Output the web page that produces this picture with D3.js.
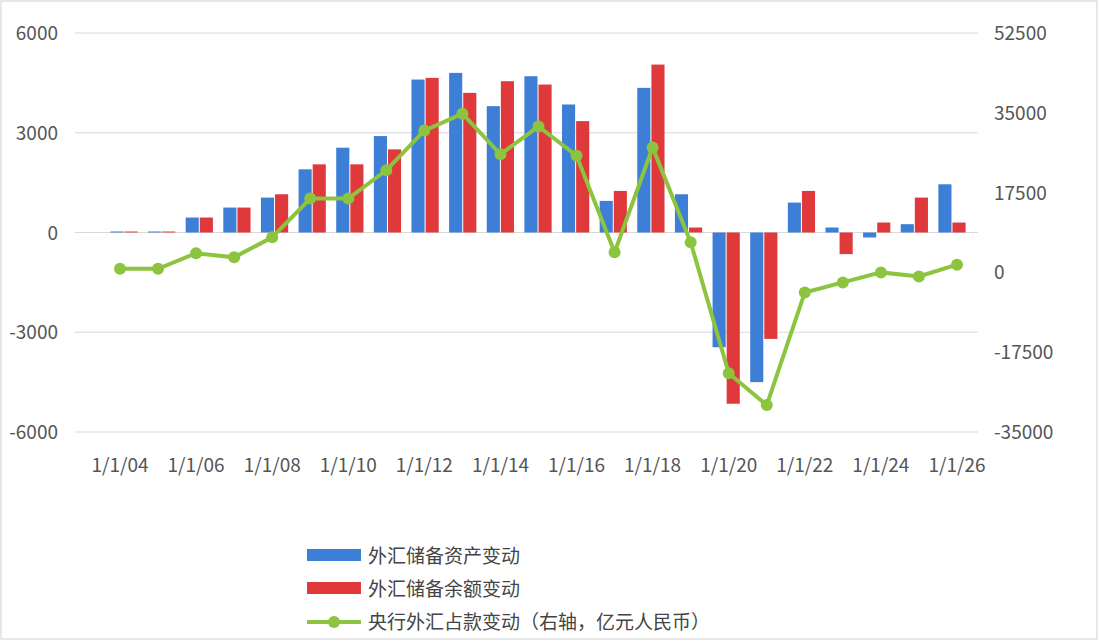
<!DOCTYPE html>
<html><head><meta charset="utf-8">
<script src="https://cdn.jsdelivr.net/npm/d3@7"></script>
<style>body{margin:0;background:#fff;font-family:"Noto Sans CJK SC","DejaVu Sans",sans-serif}</style>
</head><body><svg id="c" width="1100" height="642"></svg>
<script>
var years = d3.range(2004, 2027);
var assetChange = [30, 30, 450, 750, 1050, 1900, 2550, 2900, 4600, 4800, 3800, 4700, 3850, 950, 4350, 1150, -3450, -4500, 900, 150, -150, 250, 1450];
var balanceChange = [30, 30, 450, 750, 1150, 2050, 2050, 2500, 4650, 4200, 4550, 4450, 3350, 1250, 5050, 150, -5150, -3200, 1250, -650, 300, 1050, 300];
var pbocChange = [800, 800, 4200, 3300, 7700, 16200, 16200, 22400, 31100, 34800, 25900, 32000, 25600, 4400, 27400, 6600, -22100, -29100, -4400, -2200, 0, -900, 1700];
var leftTicks = [-6000, -3000, 0, 3000, 6000];
var rightTicks = [-35000, -17500, 0, 17500, 35000, 52500];
var names = ['外汇储备资产变动', '外汇储备余额变动', '央行外汇占款变动（右轴，亿元人民币）'];
var colors = ['#3d7fd6', '#e0393b', '#8cc43f'];

var svg = d3.select('#c');
svg.append('rect').attr('x', 1).attr('y', 1).attr('width', 1096).attr('height', 638)
    .attr('fill', 'none').attr('stroke', '#d0d0d0');

var plotLeft = 75, plotRight = 978, plotTop = 33, plotBottom = 432;
var x = d3.scaleBand().domain(years).range([plotLeft + 26, plotRight - 2]).paddingInner(0.25).paddingOuter(0.25);
var x0 = d3.scaleBand().domain(years).range([plotLeft + 26, plotRight - 2]);
var yl = d3.scaleLinear().domain([-6000, 6000]).range([plotBottom, plotTop]);
var yr = d3.scaleLinear().domain([-35000, 52500]).range([plotBottom, plotTop]);

svg.selectAll('line.grid').data(leftTicks).enter().append('line')
    .attr('x1', plotLeft).attr('x2', plotRight).attr('y1', yl).attr('y2', yl)
    .attr('stroke', '#d9d9d9');

svg.selectAll('text.yl').data(leftTicks).enter().append('text')
    .attr('x', 58).attr('y', function (d) { return yl(d) + 7; })
    .attr('text-anchor', 'end').attr('font-size', 19).attr('fill', '#555')
    .text(function (d) { return d; });
svg.selectAll('text.yr').data(rightTicks).enter().append('text')
    .attr('x', 994).attr('y', function (d) { return yr(d) + 7; })
    .attr('font-size', 19).attr('fill', '#555')
    .text(function (d) { return d; });

var bw = x.bandwidth() / 2;
var g = svg.append('g');
g.selectAll('rect.a').data(assetChange).enter().append('rect')
    .attr('x', function (d, i) { return x(years[i]); })
    .attr('y', function (d) { return yl(Math.max(0, d)); })
    .attr('width', bw - 1)
    .attr('height', function (d) { return Math.abs(yl(d) - yl(0)); })
    .attr('fill', colors[0]);
g.selectAll('rect.b').data(balanceChange).enter().append('rect')
    .attr('x', function (d, i) { return x(years[i]) + bw; })
    .attr('y', function (d) { return yl(Math.max(0, d)); })
    .attr('width', bw - 1)
    .attr('height', function (d) { return Math.abs(yl(d) - yl(0)); })
    .attr('fill', colors[1]);

var cx = function (d, i) { return x0(years[i]) + x0.bandwidth() / 2; };
var line = d3.line().x(function (d, i) { return cx(d, i); }).y(function (d) { return yr(d); });
svg.append('path').datum(pbocChange).attr('d', line)
    .attr('fill', 'none').attr('stroke', colors[2]).attr('stroke-width', 4);
svg.selectAll('circle.p').data(pbocChange).enter().append('circle')
    .attr('cx', cx).attr('cy', function (d) { return yr(d); }).attr('r', 6)
    .attr('fill', colors[2]);

svg.selectAll('text.xl').data(years.filter(function (d) { return d % 2 === 0; })).enter().append('text')
    .attr('x', function (d) { return x0(d) + x0.bandwidth() / 2; }).attr('y', 472)
    .attr('text-anchor', 'middle').attr('font-size', 19).attr('fill', '#555')
    .text(function (d) { return '1/1/' + String(d).slice(2); });

// legend
names.forEach(function (n, i) {
    var ly = 556 + i * 33;
    if (i < 2) {
        svg.append('rect').attr('x', 307).attr('y', ly - 7).attr('width', 54).attr('height', 12).attr('fill', colors[i]);
    } else {
        svg.append('line').attr('x1', 307).attr('x2', 361).attr('y1', ly).attr('y2', ly)
            .attr('stroke', colors[2]).attr('stroke-width', 4);
        svg.append('circle').attr('cx', 334).attr('cy', ly).attr('r', 6).attr('fill', colors[2]);
    }
    svg.append('text').attr('x', 368).attr('y', ly + 7).attr('font-size', 19).attr('fill', '#444').text(n);
});
</script></body></html>
